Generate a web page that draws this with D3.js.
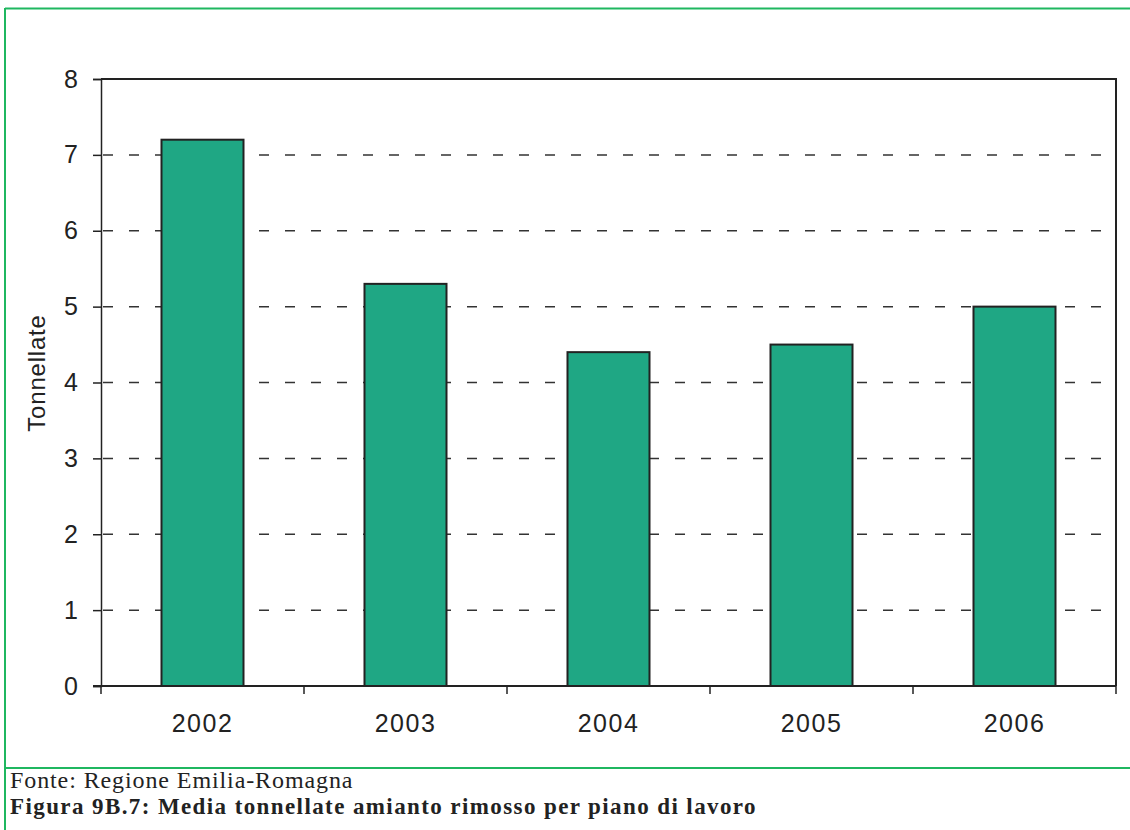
<!DOCTYPE html>
<html>
<head>
<meta charset="utf-8">
<script src="https://cdn.jsdelivr.net/npm/d3@7/dist/d3.min.js"></script>
<style>
  html, body { margin: 0; padding: 0; background: #fff; }
  svg { display: block; }
</style>
</head>
<body>
<svg id="chart" width="1130" height="830"></svg>
<script>
// Average tonnes of asbestos removed per work plan, by year
const years = ["2002", "2003", "2004", "2005", "2006"];
const tonnes = [7.2, 5.3, 4.4, 4.5, 5.0];
const yTicks = [0, 1, 2, 3, 4, 5, 6, 7, 8];

const svg = d3.select("#chart");
const W = 1130, H = 830;
const plot = { left: 101, right: 1116, top: 79, bottom: 686 };

const frameGreen = "#1fb760";
const barFill = "#1fa784";
const ink = "#222";

// outer frame (top, left and divider above the caption)
svg.append("line").attr("x1", 5).attr("x2", W).attr("y1", 8.5).attr("y2", 8.5)
  .attr("stroke", frameGreen).attr("stroke-width", 2);
svg.append("line").attr("x1", 5).attr("x2", 5).attr("y1", 8).attr("y2", H)
  .attr("stroke", frameGreen).attr("stroke-width", 2);
svg.append("line").attr("x1", 5).attr("x2", W).attr("y1", 768).attr("y2", 768)
  .attr("stroke", frameGreen).attr("stroke-width", 2);

const x = d3.scaleBand().domain(years).range([plot.left, plot.right])
  .paddingInner(0.596).paddingOuter(0.298);
const y = d3.scaleLinear().domain([0, 8]).range([plot.bottom, plot.top]);

// dashed gridlines
svg.append("g").selectAll("line").data(yTicks.filter(d => d > 0 && d < 8)).join("line")
  .attr("x1", plot.left).attr("x2", plot.right)
  .attr("y1", d => y(d)).attr("y2", d => y(d))
  .attr("stroke", "#333").attr("stroke-width", 1.5)
  .attr("stroke-dasharray", "10,16").attr("stroke-dashoffset", -2);

// plot border: top and right edges
svg.append("path")
  .attr("d", `M${plot.left},${plot.top}H${plot.right}V${plot.bottom}`)
  .attr("fill", "none").attr("stroke", ink).attr("stroke-width", 2);

// bars
svg.append("g").selectAll("rect").data(years).join("rect")
  .attr("x", d => x(d))
  .attr("y", (d, i) => y(tonnes[i]))
  .attr("width", x.bandwidth())
  .attr("height", (d, i) => y(0) - y(tonnes[i]))
  .attr("fill", barFill).attr("stroke", ink).attr("stroke-width", 2);

// y axis
const yAxis = svg.append("g").attr("transform", `translate(${plot.left},0)`)
  .call(d3.axisLeft(y).tickValues(yTicks).tickFormat(d3.format("d")).tickSize(8).tickPadding(15));
yAxis.select(".domain").attr("stroke", ink).attr("stroke-width", 1.5);
yAxis.selectAll(".tick line").attr("stroke", ink).attr("stroke-width", 1.5);
yAxis.selectAll(".tick text")
  .attr("font-family", "'Liberation Sans', Arial, sans-serif")
  .attr("font-size", 25).attr("fill", ink);

// x axis: ticks at category boundaries
const boundaries = years.map(d => x(d) - x.step() * x.paddingInner() / 2)
  .concat([plot.right]);
boundaries[0] = plot.left;
const xAxisG = svg.append("g").attr("transform", `translate(0,${plot.bottom})`);
xAxisG.append("line").attr("x1", plot.left - 8).attr("x2", plot.right)
  .attr("stroke", ink).attr("stroke-width", 2);
xAxisG.selectAll("line.tk").data(boundaries).join("line").attr("class", "tk")
  .attr("x1", d => d).attr("x2", d => d).attr("y1", 0).attr("y2", 8)
  .attr("stroke", ink).attr("stroke-width", 1.5);
xAxisG.selectAll("text").data(years).join("text")
  .attr("x", d => x(d) + x.bandwidth() / 2)
  .attr("y", 46)
  .attr("text-anchor", "middle")
  .attr("font-family", "'Liberation Sans', Arial, sans-serif")
  .attr("font-size", 25).attr("letter-spacing", 1.5).attr("fill", ink)
  .text(d => d);

// y axis title
svg.append("text")
  .attr("transform", "translate(45,373) rotate(-90)")
  .attr("text-anchor", "middle")
  .attr("font-family", "'Liberation Sans', Arial, sans-serif")
  .attr("font-size", 24).attr("letter-spacing", 0.8).attr("fill", ink)
  .text("Tonnellate");

// source and caption
svg.append("text").attr("x", 10).attr("y", 788)
  .attr("font-family", "'Liberation Serif', 'Times New Roman', serif")
  .attr("font-size", 24).attr("letter-spacing", 0.9).attr("fill", ink)
  .text("Fonte: Regione Emilia-Romagna");
svg.append("text").attr("x", 10).attr("y", 814)
  .attr("font-family", "'Liberation Serif', 'Times New Roman', serif")
  .attr("font-size", 23).attr("font-weight", "bold").attr("letter-spacing", 1.4).attr("fill", ink)
  .text("Figura 9B.7: Media tonnellate amianto rimosso per piano di lavoro");
</script>
</body>
</html>
